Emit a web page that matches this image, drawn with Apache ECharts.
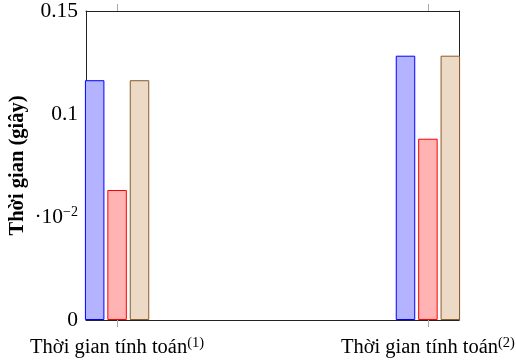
<!DOCTYPE html>
<html>
<head>
<meta charset="utf-8">
<script src="https://cdn.jsdelivr.net/npm/echarts@6/dist/echarts.min.js"></script>
<style>html,body{margin:0;padding:0;background:#fff}#c{width:516px;height:364px}</style>
</head>
<body>
<div id="c"></div>
<script>
// Data
var categories = ['Thời gian tính toán', 'Thời gian tính toán'];
var categorySup = ['(1)', '(2)'];
var categoryPos = [0, 1];
var seriesBlue = [0.1164, 0.1283];
var seriesRed = [0.0631, 0.0880];
var seriesTan = [0.1164, 0.1283];
var yTickValues = [0, 0.05, 0.1, 0.15];
var yTickLabels = ['0', '·10{sup|−2}', '0.1', '0.15'];
var yTitle = 'Thời gian (giây)';

function pairs(vals) { return vals.map(function (v, i) { return [categoryPos[i], v]; }); }

var FONT = 'Liberation Serif';
var chart = echarts.init(document.getElementById('c'), null, { renderer: 'canvas' });
var barW = 19.5;
function barSeries(vals, fill, stroke) {
  return {
    type: 'bar', data: pairs(vals), barWidth: barW, barGap: '15%',
    itemStyle: { color: fill, borderColor: stroke, borderWidth: 1 },
    clip: true, animation: false
  };
}
var xCommon = {
  type: 'value', min: -0.1, max: 1.1,
  splitLine: { show: false },
  axisLine: { show: true, onZero: false, lineStyle: { color: '#222', width: 1 } },
  axisTick: { show: true, inside: false, length: 7, customValues: categoryPos, lineStyle: { color: '#aaa', width: 1 } }
};
chart.setOption({
  animation: false,
  grid: { left: 86, right: 57, top: 11, bottom: 44, containLabel: false, outerBoundsMode: 'none' },
  xAxis: [
    Object.assign({}, xCommon, {
      position: 'bottom',
      axisLabel: {
        show: true, margin: 16, customValues: categoryPos, hideOverlap: false,
        formatter: function (v) {
          var i = categoryPos.indexOf(Math.round(v));
          return '{b|' + categories[i] + '}{s|' + categorySup[i] + '}';
        },
        rich: {
          b: { fontFamily: FONT, fontSize: 20.5, color: '#000', verticalAlign: 'bottom', lineHeight: 22 },
          s: { fontFamily: FONT, fontSize: 14.5, color: '#000', verticalAlign: 'top', lineHeight: 22, padding: [0, 0, 9, 0] }
        }
      }
    }),
    Object.assign({}, xCommon, { position: 'top', axisLabel: { show: false } })
  ],
  yAxis: [{
    type: 'value', min: 0, max: 0.15, interval: 0.05,
    position: 'left',
    splitLine: { show: false },
    axisLine: { show: true, onZero: false, lineStyle: { color: '#222', width: 1 } },
    axisTick: { show: false },
    axisLabel: {
      margin: 8, fontFamily: FONT, fontSize: 21.5, color: '#000',
      formatter: function (v) {
        var i = yTickValues.findIndex(function (t) { return Math.abs(t - v) < 1e-9; });
        return i >= 0 ? yTickLabels[i] : '';
      },
      rich: {
        sup: { fontFamily: FONT, fontSize: 14, color: '#000', padding: [0, 0, 10, 0] }
      }
    },
    name: yTitle, nameLocation: 'middle', nameGap: 58, nameRotate: 90, nameMoveOverlap: false,
    nameTextStyle: { fontFamily: FONT, fontSize: 20.5, fontWeight: 'bold', color: '#000' }
  }, {
    type: 'value', min: 0, max: 0.15, interval: 0.05, position: 'right',
    splitLine: { show: false }, axisTick: { show: false }, axisLabel: { show: false },
    axisLine: { show: true, onZero: false, lineStyle: { color: '#222', width: 1 } }
  }],
  series: [
    barSeries(seriesBlue, '#b3b3ff', '#0000ff'),
    barSeries(seriesRed, '#ffb3b3', '#ff0000'),
    barSeries(seriesTan, '#ecd9c6', '#8b5a2b')
  ]
});
</script>
</body>
</html>
